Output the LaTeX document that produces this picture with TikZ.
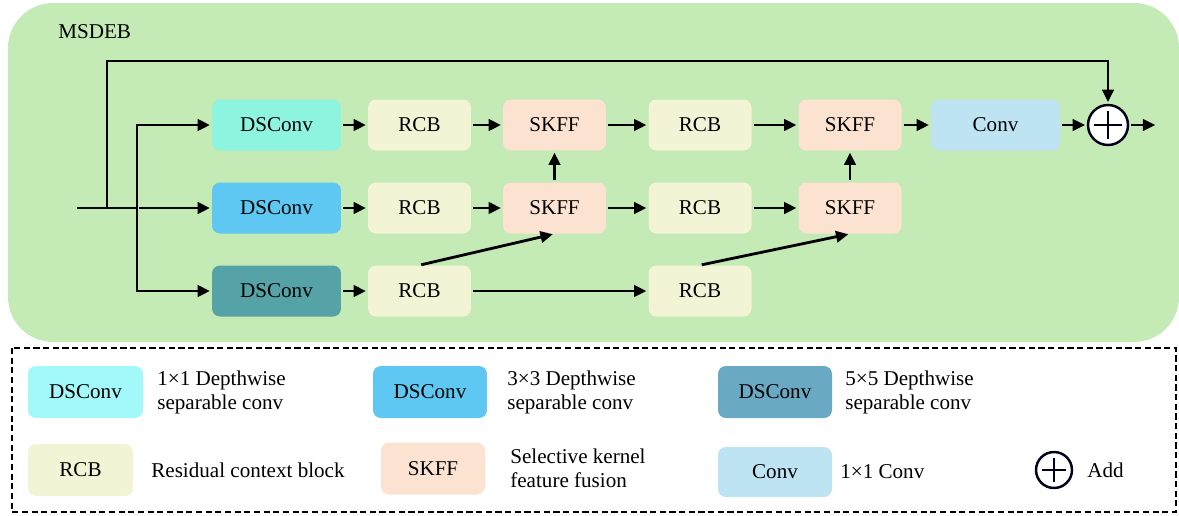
\documentclass[tikz,border=0pt]{standalone}
\usepackage{fontspec}
\setmainfont{Liberation Serif}
\usetikzlibrary{arrows.meta}
\definecolor{bggreen}{HTML}{C4EAB5}
\definecolor{dsa}{HTML}{8DF5DF}
\definecolor{dsal}{HTML}{A3F8F9}
\definecolor{dsb}{HTML}{5EC8F2}
\definecolor{dsc}{HTML}{56A3A7}
\definecolor{dscl}{HTML}{69A9C3}
\definecolor{rcbc}{HTML}{F3F3D5}
\definecolor{skffc}{HTML}{FCE3D1}
\definecolor{convc}{HTML}{BEE3F3}
\begin{document}
\begin{tikzpicture}[x=0.02cm,y=-0.02cm,
  font=\fontsize{12}{13.6}\selectfont,
  blk/.style={rounded corners=4.5pt, minimum height=1.02cm, inner sep=0pt},
  wide/.style={blk, minimum width=2.58cm},
  narrow/.style={blk, minimum width=2.06cm},
  leg/.style={rounded corners=4.5pt, minimum height=1.04cm, inner sep=0pt},
  legtext/.style={anchor=west, align=left, inner sep=0pt},
  addnode/.style={circle, draw=black!90!blue, fill=white, line width=1.4pt, inner sep=0pt,
    path picture={\draw[line width=0.7pt]
      ([xshift=3.5pt]path picture bounding box.west) -- ([xshift=-3.5pt]path picture bounding box.east)
      ([yshift=-3.5pt]path picture bounding box.north) -- ([yshift=3.5pt]path picture bounding box.south);}},
  arr/.style={line width=1.6pt, -{Triangle[length=7pt,width=6.5pt]}, shorten >=1pt, shorten <=1pt}]
\useasboundingbox (0,0) rectangle (1179,515);
% main block
\fill[bggreen, rounded corners=0.9cm] (8,3) rectangle (1179,342);
\node [anchor=west, inner sep=0pt] (title) at (58,32) {MSDEB};
\node [wide, fill=dsa] (ds1) at (276.5,125) {DSConv};
\node [wide, fill=dsb] (ds2) at (276.5,208) {DSConv};
\node [wide, fill=dsc] (ds3) at (276.5,291) {DSConv};
\node [narrow, fill=rcbc] (rcb1) at (419.5,125) {RCB};
\node [narrow, fill=rcbc] (rcb2) at (419.5,208) {RCB};
\node [narrow, fill=rcbc] (rcb3) at (419.5,291) {RCB};
\node [narrow, fill=skffc] (sk1) at (554.5,125) {SKFF};
\node [narrow, fill=skffc] (sk2) at (554.5,208) {SKFF};
\node [narrow, fill=rcbc] (rcb4) at (700,125) {RCB};
\node [narrow, fill=rcbc] (rcb5) at (700,208) {RCB};
\node [narrow, fill=rcbc] (rcb6) at (700,291) {RCB};
\node [narrow, fill=skffc] (sk3) at (850,125) {SKFF};
\node [narrow, fill=skffc] (sk4) at (850,208) {SKFF};
\node [wide, fill=convc] (conv) at (995.5,125) {Conv};
\node [addnode, minimum size=0.8cm] (add) at (1108,125) {};
\coordinate (in) at (77,208);
\coordinate (sp1) at (107,208);
\coordinate (sp2) at (137,208);
\coordinate (top) at (107,61);
\coordinate (out) at (1157,125);
% connectors
\draw [line width=1.6pt] (in) -- (sp2);
\draw [arr] (sp2) -- (ds2);
\draw [arr, shorten <=0pt] (sp2) |- (ds1);
\draw [arr, shorten <=0pt] (sp2) |- (ds3);
\draw [arr, shorten <=0pt] (sp1) -- (top) -| (add);
\draw [arr] (ds1) -- (rcb1);
\draw [arr] (ds2) -- (rcb2);
\draw [arr] (ds3) -- (rcb3);
\draw [arr] (rcb1) -- (sk1);
\draw [arr] (rcb2) -- (sk2);
\draw [arr] (rcb3) -- (rcb6);
\draw [arr] (sk2) -- (sk1);
\draw [arr] (rcb3.north) -- (sk2.south);
\draw [arr] (sk1) -- (rcb4);
\draw [arr] (sk2) -- (rcb5);
\draw [arr] (rcb4) -- (sk3);
\draw [arr] (rcb5) -- (sk4);
\draw [arr] (sk4) -- (sk3);
\draw [arr] (rcb6.north) -- (sk4.south);
\draw [arr] (sk3) -- (conv);
\draw [arr] (conv) -- (add);
\draw [arr] (add) -- (out);
% legend
\draw [dash pattern=on 3.5pt off 2pt, line width=1.3pt] (12,348) rectangle (1176,512);
\node [leg, minimum width=2.3cm, fill=dsal] (lds1) at (85.5,392) {DSConv};
\node [legtext] (tds1) at (157,392) {1×1 Depthwise\\separable conv};
\node [leg, minimum width=2.28cm, fill=dsb] (lds2) at (430,392) {DSConv};
\node [legtext] (tds2) at (507,392) {3×3 Depthwise\\separable conv};
\node [leg, minimum width=2.28cm, fill=dscl] (lds3) at (775,392) {DSConv};
\node [legtext] (tds3) at (845,392) {5×5 Depthwise\\separable conv};
\node [leg, minimum width=2.1cm, fill=rcbc] (lrcb) at (80.5,470) {RCB};
\node [legtext] (trcb) at (151,470) {Residual context block};
\node [leg, minimum width=2.08cm, fill=skffc] (lsk) at (433,468.5) {SKFF};
\node [legtext] (tsk) at (510,468.5) {Selective kernel\\feature fusion};
\node [leg, minimum width=2.28cm, minimum height=1cm, fill=convc] (lconv) at (775,472) {Conv};
\node [legtext] (tconv) at (840,472) {1×1 Conv};
\node [addnode, minimum size=0.72cm, fill=none] (ladd) at (1054,470) {};
\node [legtext] (tadd) at (1087,470) {Add};
\end{tikzpicture}
\end{document}
